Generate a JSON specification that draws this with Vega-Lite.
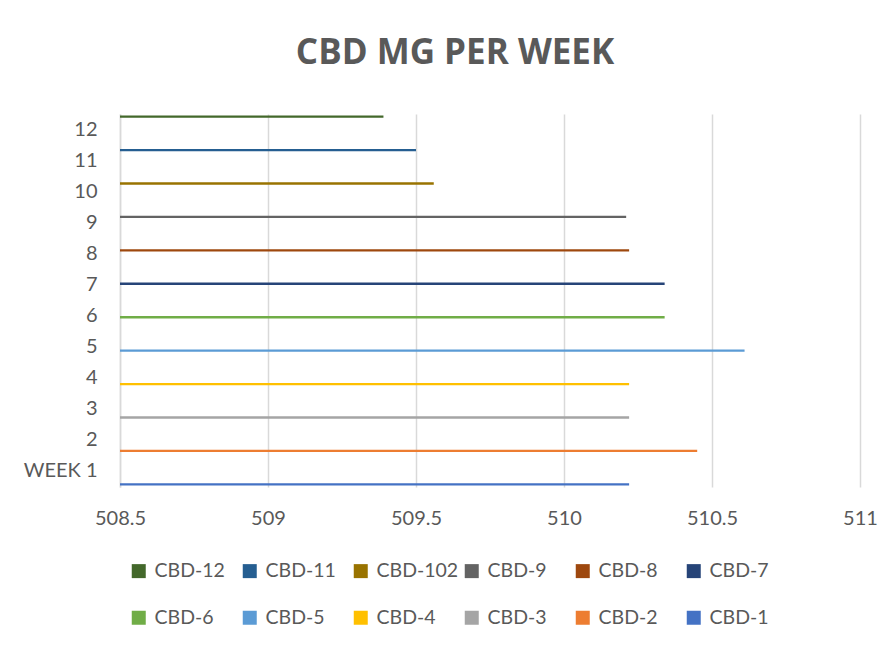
{
  "$schema": "https://vega.github.io/schema/vega-lite/v6.json",
  "autosize": {"type": "none"},
  "width": 740,
  "height": 373,
  "padding": {"left": 120, "top": 114, "right": 36, "bottom": 159},
  "background": "white",
  "title": {
    "text": "CBD MG PER WEEK",
    "font": "Open Sans",
    "fontSize": 35,
    "fontWeight": "bold",
    "color": "#595959",
    "anchor": "middle",
    "frame": "group",
    "baseline": "alphabetic",
    "dx": -35,
    "offset": 15
  },
  "data": {
    "values": [
      {"week": "WEEK 1", "series": "CBD-1", "mg": 510.22},
      {"week": "2", "series": "CBD-2", "mg": 510.45},
      {"week": "3", "series": "CBD-3", "mg": 510.22},
      {"week": "4", "series": "CBD-4", "mg": 510.22},
      {"week": "5", "series": "CBD-5", "mg": 510.61},
      {"week": "6", "series": "CBD-6", "mg": 510.34},
      {"week": "7", "series": "CBD-7", "mg": 510.34},
      {"week": "8", "series": "CBD-8", "mg": 510.22},
      {"week": "9", "series": "CBD-9", "mg": 510.21},
      {"week": "10", "series": "CBD-102", "mg": 509.56},
      {"week": "11", "series": "CBD-11", "mg": 509.5},
      {"week": "12", "series": "CBD-12", "mg": 509.39}
    ]
  },
  "mark": {"type": "bar"},
  "encoding": {
    "y": {
      "field": "week",
      "type": "nominal",
      "scale": {
        "domain": ["12", "11", "10", "9", "8", "7", "6", "5", "4", "3", "2", "WEEK 1"],
        "paddingInner": 0.093,
        "paddingOuter": 0.0465
      },
      "axis": {
        "title": null,
        "ticks": false,
        "labelFont": "Lato",
        "labelFontSize": 20,
        "labelColor": "#595959",
        "labelPadding": 23,
        "domainColor": "#d9d9d9",
        "domainWidth": 1.5
      }
    },
    "yOffset": {
      "field": "series",
      "type": "nominal",
      "scale": {
        "domain": ["CBD-12", "CBD-11", "CBD-102", "CBD-9", "CBD-8", "CBD-7", "CBD-6", "CBD-5", "CBD-4", "CBD-3", "CBD-2", "CBD-1"],
        "paddingInner": 0,
        "paddingOuter": 0
      }
    },
    "x": {
      "field": "mg",
      "type": "quantitative",
      "scale": {"domain": [508.5, 511], "zero": false, "nice": false},
      "axis": {
        "title": null,
        "values": [508.5, 509, 509.5, 510, 510.5, 511],
        "format": "~g",
        "domain": false,
        "ticks": false,
        "labelFont": "Lato",
        "labelFontSize": 20,
        "labelColor": "#595959",
        "labelPadding": 21,
        "labelFlush": false,
        "gridColor": "#d9d9d9",
        "gridWidth": 1.5
      }
    },
    "x2": {"datum": 508.5},
    "color": {
      "field": "series",
      "type": "nominal",
      "scale": {
        "domain": ["CBD-12", "CBD-11", "CBD-102", "CBD-9", "CBD-8", "CBD-7", "CBD-6", "CBD-5", "CBD-4", "CBD-3", "CBD-2", "CBD-1"],
        "range": ["#43682B", "#255E91", "#997300", "#636363", "#9E480E", "#264478", "#70AD47", "#5B9BD5", "#FFC000", "#A5A5A5", "#ED7D31", "#4472C4"]
      },
      "legend": {
        "title": null,
        "orient": "none",
        "legendX": 9,
        "legendY": 447,
        "direction": "horizontal",
        "columns": 6,
        "gridAlign": "all",
        "columnPadding": 3,
        "rowPadding": 26,
        "symbolType": "square",
        "symbolSize": 196,
        "symbolStrokeWidth": 0,
        "labelFont": "Lato",
        "labelFontSize": 19.5,
        "labelColor": "#595959",
        "labelOffset": 6,
        "labelLimit": 200
      }
    }
  },
  "config": {
    "view": {"stroke": null}
  }
}
